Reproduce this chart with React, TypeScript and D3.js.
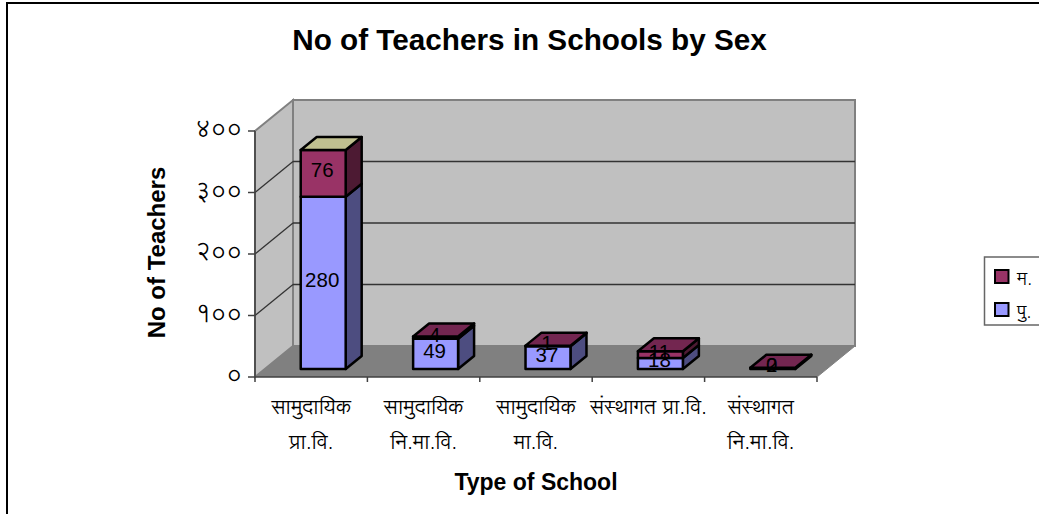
import React from "react";
import * as d3 from "d3";

const categories = ["c1", "c2", "c3", "c4", "c5"];
const categoryLines = [
  ["सामुदायिक", "प्रा.वि."],
  ["सामुदायिक", "नि.मा.वि."],
  ["सामुदायिक", "मा.वि."],
  ["संस्थागत प्रा.वि."],
  ["संस्थागत", "नि.मा.वि."],
];
const maleValues = [280, 49, 37, 18, 2];
const femaleValues = [76, 4, 1, 11, 0];
const seriesNames = ["पु.", "म."];
const yTicks = [0, 100, 200, 300, 400];
const yTickLabels = ["०", "१००", "२००", "३००", "४००"];
const topColors = ["#C0C090", "#732650", "#732650", "#732650", "#732650"];

const W = 1039, H = 514;
const FRONT = { l: 255, r: 817, y0: 377, y400: 131 };
const WALL = { dx: 38, dy: -31 };
const BAR = { dx: 16, dy: -13, shift: 12, lift: 8, ratio: 0.4 };
const SANS = "'Liberation Sans', Arial, sans-serif";
const DEVA = "'Lohit Devanagari', 'Noto Sans Devanagari', 'Noto Serif Devanagari', 'Liberation Serif', serif";

const fills = [
  { front: "#9999FF", side: "#4D4D80" },
  { front: "#993366", side: "#4D1A33" },
];

export default function App() {
  const x = d3.scaleBand<string>().domain(categories).range([FRONT.l, FRONT.r]);
  const y = d3.scaleLinear().domain([0, 400]).range([FRONT.y0, FRONT.y400]);
  const rows = categories.map((c, i) => ({ c, m: maleValues[i], f: femaleValues[i] }));
  const stacked = d3.stack<any>().keys(["m", "f"])(rows);
  const bw = x.bandwidth() * BAR.ratio;
  const pts = (p: [number, number][]) => p.map((q) => q.join(",")).join(" ");
  const bx = (c: string) => x(c)! + x.bandwidth() / 2 + BAR.shift - bw / 2;
  const by = (v: number) => y(v) - BAR.lift;

  return (
    <svg width={W} height={H} style={{ position: "absolute", left: 0, top: 0, background: "#fff" }}>
      <rect x={7} y={3} width={1100} height={600} fill="#fff" stroke="#000" strokeWidth={2} />
      <text x={529.5} y={50} textAnchor="middle" fontFamily={SANS} fontWeight="bold" fontSize={29.7} fill="#000">
        No of Teachers in Schools by Sex
      </text>

      {/* walls */}
      <polygon
        points={pts([[FRONT.l, y(0)], [FRONT.l + WALL.dx, y(0) + WALL.dy], [FRONT.l + WALL.dx, y(400) + WALL.dy], [FRONT.l, y(400)]])}
        fill="#C0C0C0" stroke="#808080" strokeWidth={2}
      />
      <rect x={FRONT.l + WALL.dx} y={y(400) + WALL.dy} width={FRONT.r - FRONT.l} height={y(0) - y(400)} fill="#C0C0C0" stroke="#808080" strokeWidth={2} />
      <polygon
        points={pts([[FRONT.l, y(0)], [FRONT.r, y(0)], [FRONT.r + WALL.dx, y(0) + WALL.dy], [FRONT.l + WALL.dx, y(0) + WALL.dy]])}
        fill="#808080"
      />
      <line x1={FRONT.r} y1={y(0)} x2={FRONT.r + WALL.dx} y2={y(0) + WALL.dy} stroke="#808080" strokeWidth={1} />

      {/* gridlines */}
      {yTicks.slice(1, 4).map((t) => (
        <g key={t} stroke="#333" strokeWidth={1.3}>
          <line x1={FRONT.l} y1={y(t)} x2={FRONT.l + WALL.dx} y2={y(t) + WALL.dy} />
          <line x1={FRONT.l + WALL.dx} y1={y(t) + WALL.dy} x2={FRONT.r + WALL.dx} y2={y(t) + WALL.dy} />
        </g>
      ))}

      {/* axes */}
      <g stroke="#404040" strokeWidth={1.5}>
        <line x1={FRONT.l} y1={y(0)} x2={FRONT.l} y2={y(400)} />
        <line x1={FRONT.l} y1={y(0)} x2={FRONT.r} y2={y(0)} />
        {yTicks.map((t) => (
          <line key={t} x1={FRONT.l - 7} y1={y(t)} x2={FRONT.l} y2={y(t)} />
        ))}
        {[...categories.map((c) => x(c)!), FRONT.r].map((px) => (
          <line key={px} x1={px} y1={y(0)} x2={px} y2={y(0) + 5} />
        ))}
      </g>

      {/* bars */}
      {categories.map((c, i) => {
        const L = bx(c), R = L + bw;
        const topV = stacked[1][i][1];
        return (
          <g key={c} stroke="#000" strokeWidth={2.5} strokeLinejoin="round">
            {stacked.map((s, k) => {
              const a = by(s[i][0]), b = by(s[i][1]);
              return (
                <g key={k}>
                  <polygon points={pts([[R, a], [R + BAR.dx, a + BAR.dy], [R + BAR.dx, b + BAR.dy], [R, b]])} fill={fills[k].side} />
                  <rect x={L} y={b} width={bw} height={a - b} fill={fills[k].front} />
                </g>
              );
            })}
            <polygon
              points={pts([[L, by(topV)], [R, by(topV)], [R + BAR.dx, by(topV) + BAR.dy], [L + BAR.dx, by(topV) + BAR.dy]])}
              fill={topColors[i]}
            />
          </g>
        );
      })}

      {/* value labels */}
      {categories.map((c, i) =>
        stacked.map((s, k) => (
          <text
            key={c + k}
            x={bx(c) + bw / 2 - 1}
            y={by((s[i][0] + s[i][1]) / 2) + 4}
            textAnchor="middle"
            fontFamily={SANS}
            fontSize={20.5}
            fill="#000"
          >
            {s[i][1] - s[i][0]}
          </text>
        ))
      )}

      {/* y tick labels */}
      {yTicks.map((t, i) => (
        <text key={t} x={FRONT.l - 13} y={y(t) + 6} textAnchor="end" fontFamily={DEVA} fontSize={24} fill="#000">
          {yTickLabels[i]}
        </text>
      ))}

      {/* x tick labels */}
      {categories.map((c, i) =>
        categoryLines[i].map((ln, j) => (
          <text
            key={c + j}
            x={x(c)! + x.bandwidth() / 2}
            y={414 + j * 35}
            textAnchor="middle"
            fontFamily={DEVA}
            fontSize={20.5}
            fill="#000"
          >
            {ln}
          </text>
        ))
      )}

      <text x={536} y={490} textAnchor="middle" fontFamily={SANS} fontWeight="bold" fontSize={23} fill="#000">
        Type of School
      </text>
      <text transform="translate(165,252.5) rotate(-90)" textAnchor="middle" fontFamily={SANS} fontWeight="bold" fontSize={24} fill="#000">
        No of Teachers
      </text>

      {/* legend */}
      <rect x={984.5} y={257} width={80} height={68} fill="#fff" stroke="#666" strokeWidth={1.5} />
      {[1, 0].map((k, i) => (
        <g key={k}>
          <rect x={995} y={270 + i * 33} width={13.5} height={13} fill={fills[k].front} stroke="#000" strokeWidth={2} />
          <text x={1017} y={285 + i * 33} fontFamily={DEVA} fontSize={18} fill="#000">
            {seriesNames[k]}
          </text>
        </g>
      ))}
    </svg>
  );
}
